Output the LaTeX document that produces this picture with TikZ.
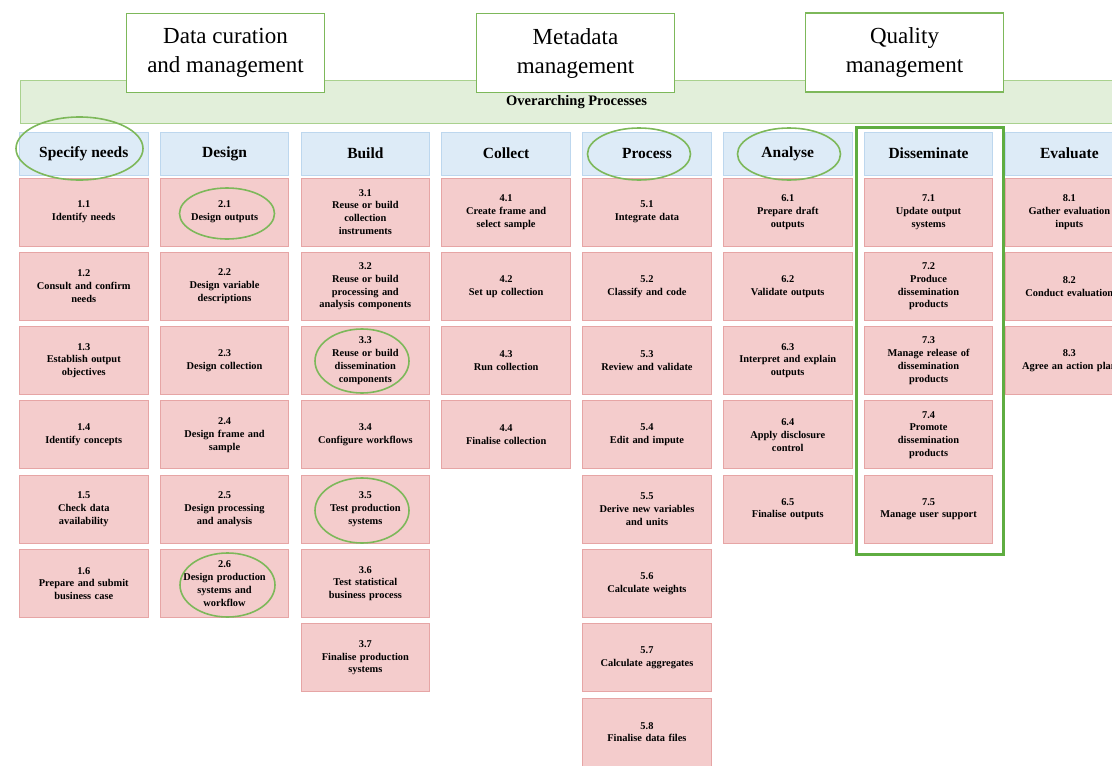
\documentclass[tikz,border=0pt]{standalone}
\usepackage{fontspec}
\setmainfont{Liberation Serif}
\usetikzlibrary{shapes.geometric}
\definecolor{pinkfill}{HTML}{F4CCCC}
\definecolor{pinkline}{HTML}{E6A5A5}
\definecolor{bluefill}{HTML}{DDEBF7}
\definecolor{blueline}{HTML}{BDD7EE}
\definecolor{bandfill}{HTML}{E2EFDA}
\definecolor{bandline}{HTML}{A9D18E}
\definecolor{topline}{HTML}{7DB85A}
\definecolor{hlline}{HTML}{7DB85A}
\definecolor{rectline}{HTML}{5FAD41}
\tikzset{
  pinkbox/.style={draw=pinkline, fill=pinkfill, line width=1pt, minimum width=128.5pt, minimum height=68pt, inner sep=0pt, text width=124pt, align=center, font=\bfseries\fontsize{10.4}{12.8}\selectfont},
  headbox/.style={draw=blueline, fill=bluefill, line width=1pt, minimum width=128.5pt, minimum height=43pt, inner sep=0pt, align=center, font=\bfseries\fontsize{15.5}{18}\selectfont},
  topbox/.style={draw=topline, fill=white, line width=1.8pt, minimum width=198pt, minimum height=79pt, inner sep=0pt, align=center, font=\fontsize{23}{29}\selectfont},
  hl/.style={draw=hlline, line width=1.6pt, ellipse, inner sep=0pt},
}
\newcommand{\pb}[4]{\node[pinkbox] (#1) at ({83.75+140.8*(#2-1)},{212+74.3*(#3-1)}) {#4};}
\newcommand{\hb}[3]{\node[headbox] (#1) at ({83.75+140.8*(#2-1)},153.5) {#3};}
\begin{document}
\begin{tikzpicture}[x=1pt,y=-1pt]
\useasboundingbox (0,0) rectangle (1112,766);
\clip (0,0) rectangle (1112,766);
% overarching band
\node[draw=bandline, fill=bandfill, line width=1pt, minimum width=1150pt, minimum height=43pt, inner sep=0pt, anchor=north west] (band) at (20,80) {};
\node[font=\bfseries\fontsize{14.5}{16}\selectfont] (bandtext) at (576.5,102) {Overarching Processes};
% top boxes
\node[topbox] (dcm) at (225.5,53) {Data curation\\and management};
\node[topbox] (mdm) at (575.5,53) {Metadata\\management};
\node[topbox] (qm) at (904.5,52.5) {Quality\\management};
% headers
\hb{h1}{1}{Specify needs}
\hb{h2}{2}{Design}
\hb{h3}{3}{Build}
\hb{h4}{4}{Collect}
\hb{h5}{5}{Process}
\hb{h6}{6}{Analyse}
\hb{h7}{7}{Disseminate}
\hb{h8}{8}{Evaluate}
% column 1
\pb{b11}{1}{1}{1.1\\Identify needs}
\pb{b12}{1}{2}{1.2\\Consult and confirm\\needs}
\pb{b13}{1}{3}{1.3\\Establish output\\objectives}
\pb{b14}{1}{4}{1.4\\Identify concepts}
\pb{b15}{1}{5}{1.5\\Check data\\availability}
\pb{b16}{1}{6}{1.6\\Prepare and submit\\business case}
% column 2
\pb{b21}{2}{1}{2.1\\Design outputs}
\pb{b22}{2}{2}{2.2\\Design variable\\descriptions}
\pb{b23}{2}{3}{2.3\\Design collection}
\pb{b24}{2}{4}{2.4\\Design frame and\\sample}
\pb{b25}{2}{5}{2.5\\Design processing\\and analysis}
\pb{b26}{2}{6}{2.6\\Design production\\systems and\\workflow}
% column 3
\pb{b31}{3}{1}{3.1\\Reuse or build\\collection\\instruments}
\pb{b32}{3}{2}{3.2\\Reuse or build\\processing and\\analysis components}
\pb{b33}{3}{3}{3.3\\Reuse or build\\dissemination\\components}
\pb{b34}{3}{4}{3.4\\Configure workflows}
\pb{b35}{3}{5}{3.5\\Test production\\systems}
\pb{b36}{3}{6}{3.6\\Test statistical\\business process}
\pb{b37}{3}{7}{3.7\\Finalise production\\systems}
% column 4
\pb{b41}{4}{1}{4.1\\Create frame and\\select sample}
\pb{b42}{4}{2}{4.2\\Set up collection}
\pb{b43}{4}{3}{4.3\\Run collection}
\pb{b44}{4}{4}{4.4\\Finalise collection}
% column 5
\pb{b51}{5}{1}{5.1\\Integrate data}
\pb{b52}{5}{2}{5.2\\Classify and code}
\pb{b53}{5}{3}{5.3\\Review and validate}
\pb{b54}{5}{4}{5.4\\Edit and impute}
\pb{b55}{5}{5}{5.5\\Derive new variables\\and units}
\pb{b56}{5}{6}{5.6\\Calculate weights}
\pb{b57}{5}{7}{5.7\\Calculate aggregates}
\pb{b58}{5}{8}{5.8\\Finalise data files}
% column 6
\pb{b61}{6}{1}{6.1\\Prepare draft\\outputs}
\pb{b62}{6}{2}{6.2\\Validate outputs}
\pb{b63}{6}{3}{6.3\\Interpret and explain\\outputs}
\pb{b64}{6}{4}{6.4\\Apply disclosure\\control}
\pb{b65}{6}{5}{6.5\\Finalise outputs}
% column 7
\pb{b71}{7}{1}{7.1\\Update output\\systems}
\pb{b72}{7}{2}{7.2\\Produce\\dissemination\\products}
\pb{b73}{7}{3}{7.3\\Manage release of\\dissemination\\products}
\pb{b74}{7}{4}{7.4\\Promote\\dissemination\\products}
\pb{b75}{7}{5}{7.5\\Manage user support}
% column 8
\pb{b81}{8}{1}{8.1\\Gather evaluation\\inputs}
\pb{b82}{8}{2}{8.2\\Conduct evaluation}
\pb{b83}{8}{3}{8.3\\Agree an action plan}
% highlight ellipses
\node[hl, minimum width=127pt, minimum height=63pt] (e1) at (79.5,148.5) {};
\node[hl, minimum width=103pt, minimum height=52pt] (e5) at (639,154) {};
\node[hl, minimum width=103pt, minimum height=52pt] (e6) at (789,154) {};
\node[hl, minimum width=95pt, minimum height=51pt] (e21) at (227,213.5) {};
\node[hl, minimum width=94pt, minimum height=64pt] (e33) at (362,361) {};
\node[hl, minimum width=94pt, minimum height=65pt] (e35) at (362,510.5) {};
\node[hl, minimum width=95pt, minimum height=64pt] (e26) at (227.5,585) {};
% disseminate highlight
\node[draw=rectline, line width=3pt, inner sep=0pt, minimum width=147pt, minimum height=427pt, anchor=north west] (dissrect) at (854.5,126) {};
\end{tikzpicture}
\end{document}
